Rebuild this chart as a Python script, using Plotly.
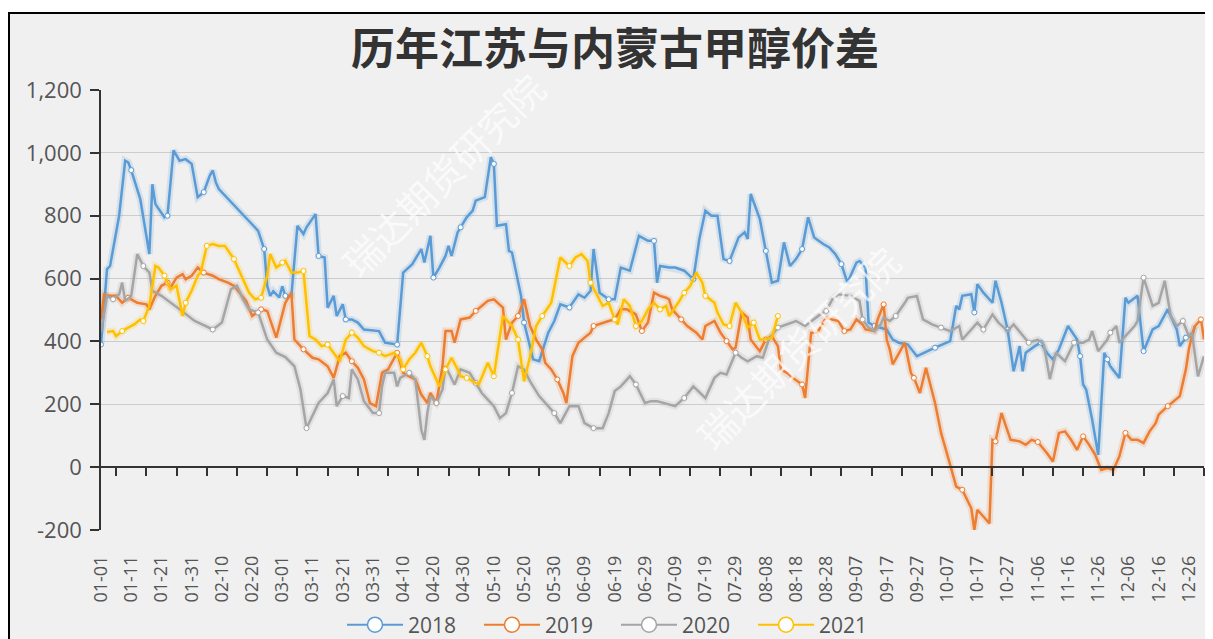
import pandas as pd
import plotly.graph_objects as go

# category axis: every calendar day (leap-year calendar, labels MM-DD)
cats = list(pd.date_range("2020-01-01", "2020-12-31", freq="D").strftime("%m-%d"))
label_days = cats[0::10]
tick_days = cats[5::10]

title_text = "历年江苏与内蒙古甲醇价差"
series_names = ["2018", "2019", "2020", "2021"]
y_ticks = [-200, 0, 200, 400, 600, 800, 1000, 1200]
y_ticktext = ["-200", "0", "200", "400", "600", "800", "1,000", "1,200"]
watermark = "瑞达期货研究院"

# (day of year index, 0 = 01-01 ; value)
s2018 = [(0,390),(2,630),(3,640),(6,800),(8,975),(9,970),(10,945),(13,853),(16,678),(17,900),(18,837),(21,795),(22,800),(24,1008),(26,975),(28,980),(30,965),(32,859),(34,875),(36,928),(37,944),(38,906),(39,885),(52,752),(54,694),(55,577),(56,545),(57,560),(59,540),(60,575),(61,545),(63,545),(65,768),(67,742),(68,763),(71,805),(72,672),(74,667),(75,507),(77,545),(78,481),(80,518),(81,470),(83,470),(85,460),(87,438),(92,433),(94,396),(98,390),(100,619),(103,646),(106,694),(107,651),(109,736),(110,603),(112,635),(114,672),(115,704),(116,672),(118,747),(119,763),(121,795),(123,816),(124,848),(127,859),(129,986),(130,965),(131,768),(134,773),(135,688),(136,683),(139,545),(140,460),(143,343),(145,337),(148,428),(150,465),(152,518),(155,508),(158,550),(160,539),(162,561),(163,694),(165,555),(168,534),(170,534),(172,635),(175,625),(178,736),(181,720),(183,720),(184,587),(185,640),(188,635),(190,635),(193,625),(196,598),(198,726),(200,816),(202,800),(204,800),(206,662),(208,656),(211,731),(213,747),(214,726),(215,869),(218,790),(220,688),(222,587),(224,593),(226,715),(228,640),(230,662),(232,694),(234,795),(236,731),(239,710),(241,699),(243,678),(245,646),(247,587),(250,651),(251,656),(253,635),(254,460),(256,449),(260,438),(262,406),(264,396),(267,390),(270,353),(276,380),(281,401),(283,513),(284,502),(285,545),(288,550),(289,492),(290,582),(292,555),(295,523),(296,593),(298,523),(300,438),(302,305),(304,385),(305,305),(306,364),(309,385),(311,396),(313,364),(315,343),(317,375),(320,449),(323,406),(324,353),(325,263),(326,247),(328,151),(330,39),(332,364),(333,343),(334,321),(337,284),(339,539),(340,523),(343,545),(345,369),(348,438),(350,449),(353,502),(356,438),(357,385),(359,412),(361,417),(362,449)]

s2019 = [(0,470),(1,550),(3,545),(5,545),(7,523),(9,539),(10,534),(12,523),(15,518),(16,502),(18,545),(20,577),(22,587),(23,571),(25,603),(27,614),(28,598),(30,609),(32,635),(34,619),(37,609),(39,598),(42,587),(44,577),(48,529),(50,481),(53,502),(55,497),(58,412),(60,481),(61,523),(63,555),(64,406),(67,375),(70,348),(72,343),(75,321),(77,284),(79,353),(81,364),(83,337),(85,316),(87,279),(89,204),(91,194),(93,300),(95,311),(98,364),(100,300),(102,289),(104,279),(106,231),(108,204),(109,236),(111,204),(113,321),(114,433),(116,433),(117,396),(119,470),(122,476),(124,497),(126,513),(128,529),(130,534),(133,508),(134,406),(136,460),(138,481),(140,534),(142,449),(144,406),(146,375),(147,332),(149,311),(151,279),(153,236),(154,204),(156,353),(158,396),(160,412),(162,428),(163,449),(166,460),(168,465),(170,470),(172,502),(174,502),(177,486),(179,433),(181,460),(183,555),(185,545),(187,539),(188,534),(189,502),(192,470),(194,449),(197,428),(199,406),(200,449),(203,465),(205,428),(207,401),(209,375),(210,380),(212,492),(214,476),(215,406),(218,369),(220,406),(222,417),(224,385),(225,311),(227,300),(229,284),(231,268),(232,263),(233,220),(235,428),(237,428),(240,476),(242,470),(244,465),(246,433),(248,438),(250,470),(252,454),(253,438),(256,433),(257,470),(259,518),(260,406),(261,375),(262,327),(264,364),(266,396),(268,300),(269,284),(271,236),(273,316),(276,204),(278,109),(281,7),(283,-62),(285,-72),(288,-131),(289,-200),(290,-136),(292,-157),(294,-179),(295,87),(296,82),(298,172),(300,119),(301,87),(304,82),(306,71),(308,87),(310,80),(313,45),(315,18),(317,109),(319,114),(321,87),(323,55),(325,98),(327,71),(329,39),(331,-9),(333,-3),(335,-9),(337,34),(339,109),(341,87),(343,87),(345,77),(347,114),(349,140),(350,167),(353,194),(355,210),(357,226),(359,311),(360,375),(361,417),(362,449),(364,470),(365,406)]

s2020 = [(0,430),(2,545),(4,534),(6,550),(7,587),(8,529),(10,545),(12,678),(14,640),(16,619),(17,561),(20,545),(26,502),(31,465),(37,438),(40,460),(43,566),(45,577),(47,534),(49,502),(52,492),(55,406),(58,364),(61,350),(64,321),(66,247),(68,124),(70,162),(72,204),(75,236),(77,279),(78,194),(80,226),(82,220),(83,311),(85,279),(87,210),(90,172),(92,172),(93,257),(94,300),(97,300),(98,257),(99,284),(102,300),(104,279),(106,119),(107,87),(108,172),(109,226),(111,204),(113,247),(114,321),(117,263),(119,311),(122,300),(124,268),(126,236),(128,215),(130,194),(132,156),(134,172),(136,236),(138,321),(140,311),(142,273),(145,226),(147,204),(150,172),(152,140),(155,194),(157,194),(158,194),(160,140),(163,124),(166,124),(168,172),(170,242),(172,257),(175,289),(177,263),(180,204),(182,210),(184,210),(188,199),(190,194),(193,220),(196,257),(200,220),(203,284),(205,300),(207,295),(210,364),(212,348),(214,337),(217,353),(219,348),(221,406),(224,444),(227,454),(230,465),(233,449),(236,470),(238,486),(240,497),(242,534),(244,550),(247,545),(248,545),(251,529),(252,470),(254,444),(256,433),(258,454),(259,476),(261,465),(263,481),(266,523),(267,539),(270,545),(272,470),(275,454),(278,444),(281,433),(284,449),(285,406),(288,438),(290,460),(292,438),(295,486),(297,460),(300,433),(302,454),(305,417),(307,396),(310,406),(312,390),(314,280),(316,364),(319,337),(322,396),(325,396),(327,406),(328,433),(330,369),(333,406),(334,428),(336,449),(337,396),(339,417),(342,449),(343,465),(345,603),(348,513),(350,523),(352,593),(354,481),(356,449),(358,465),(360,417),(361,428),(363,289),(365,353)]

s2021 = [(2,430),(4,433),(5,417),(7,433),(9,444),(11,454),(13,470),(14,465),(16,513),(18,640),(19,635),(21,609),(23,566),(25,577),(27,481),(28,523),(30,561),(32,609),(33,619),(35,704),(37,710),(39,704),(41,704),(44,662),(47,598),(49,555),(51,534),(53,539),(55,609),(56,678),(58,635),(60,651),(61,656),(63,619),(65,619),(67,624),(69,417),(71,406),(73,385),(75,390),(77,364),(79,337),(81,406),(83,428),(85,412),(87,385),(90,369),(92,364),(94,353),(97,364),(99,343),(100,311),(102,343),(104,364),(106,396),(108,353),(109,321),(110,300),(112,257),(114,311),(116,348),(118,311),(119,289),(121,284),(123,273),(125,263),(128,332),(130,289),(133,481),(134,470),(136,449),(138,406),(140,273),(142,353),(144,449),(146,481),(149,523),(151,619),(152,667),(155,640),(157,667),(159,678),(161,656),(162,587),(164,550),(166,513),(168,523),(170,470),(171,454),(173,534),(175,513),(177,449),(179,465),(181,502),(183,523),(185,502),(187,513),(188,481),(191,523),(193,555),(195,577),(197,619),(199,587),(200,545),(203,523),(204,492),(206,454),(208,449),(210,523),(212,492),(214,444),(216,460),(218,406),(220,406),(222,412),(224,481)]

series = [s2018, s2019, s2020, s2021]
colors = ["#5b9bd5", "#ed7d31", "#a5a5a5", "#ffc000"]
halos = ["rgba(91,155,213,0.18)", "rgba(237,125,49,0.18)", "rgba(165,165,165,0.18)", "rgba(255,192,0,0.18)"]

fig = go.Figure()

# soft glow under the lines
for s, h in zip(series, halos):
    fig.add_trace(go.Scatter(
        x=[cats[d] for d, _ in s], y=[v for _, v in s], mode="lines",
        line=dict(color=h, width=7), hoverinfo="skip", showlegend=False))

for name, s, c in zip(series_names, series, colors):
    fig.add_trace(go.Scatter(
        x=[cats[d] for d, _ in s], y=[v for _, v in s], name=name,
        mode="lines+markers", line=dict(color=c, width=2.5),
        marker=dict(symbol="circle", size=5, color="white",
                    line=dict(color=c, width=1), maxdisplayed=30),
        showlegend=False, legendgroup=name))

# legend entries (bigger hollow circles as in the original)
for name, c in zip(series_names, colors):
    fig.add_trace(go.Scatter(
        x=[None], y=[None], name=name, mode="lines+markers",
        line=dict(color=c, width=2),
        marker=dict(symbol="circle", size=15, color="white", line=dict(color=c, width=1.5)),
        legendgroup=name, showlegend=True))

# helper trace for the zero-line axis with ticks
fig.add_trace(go.Scatter(x=[cats[0]], y=[None], xaxis="x2", mode="lines",
                         hoverinfo="skip", showlegend=False))

# page layout (the page body adds an 8 px offset)
OFF = 8
PAGE_W, PAGE_H = 1213, 639
W, H = PAGE_W - OFF, PAGE_H - OFF
plot_left, plot_right, plot_top, plot_bottom = 101, 1204, 90, 530  # page pixels
m_l = plot_left - OFF
m_t = plot_top - OFF
m_r = PAGE_W - plot_right
m_b = PAGE_H - plot_bottom
pw = plot_right - plot_left
ph = plot_bottom - plot_top

def paper_x(px):
    return (px - plot_left) / pw

def paper_y(py):
    return (plot_bottom - py) / ph

fig.update_layout(
    width=W, height=H,
    margin=dict(l=m_l, r=m_r, t=m_t, b=m_b, autoexpand=False),
    paper_bgcolor="white",
    plot_bgcolor="rgba(0,0,0,0)",
    font=dict(family="Open Sans, Noto Sans CJK SC", color="#555"),
    title=dict(text="<b>" + title_text + "</b>", x=(615 - OFF) / W, xref="container",
               y=1 - (50 - OFF) / H, yref="container", xanchor="center", yanchor="middle",
               font=dict(family="Noto Sans CJK SC", size=44, color="#333")),
    xaxis=dict(type="category", categoryorder="array", categoryarray=cats,
               range=[0, len(cats) - 1], tickmode="array", tickvals=label_days,
               ticktext=label_days, tickangle=-90, ticks="", showgrid=False,
               showline=False, zeroline=False, ticklabelstandoff=21, automargin=False,
               tickfont=dict(size=18, color="#555")),
    xaxis2=dict(type="category", categoryorder="array", categoryarray=cats,
                range=[0, len(cats) - 1], overlaying="x", anchor="free",
                position=(0 - (-200)) / 1400, side="bottom", showline=True,
                linecolor="#333", linewidth=1.5, ticks="outside", ticklen=8,
                tickwidth=1.5, tickcolor="#333", tickmode="array",
                tickvals=tick_days, showticklabels=False, showgrid=False,
                zeroline=False),
    yaxis=dict(range=[-200, 1200], tickmode="array", tickvals=y_ticks,
               ticktext=y_ticktext, showgrid=True, gridcolor="#cccccc", gridwidth=1,
               zeroline=False, showline=True, linecolor="#333", linewidth=1.5,
               ticks="outside", ticklen=9, tickwidth=1.5, tickcolor="#333",
               ticklabelstandoff=4, automargin=False,
               tickfont=dict(size=22, color="#555")),
    legend=dict(orientation="h", x=paper_x(616), y=paper_y(625),
                xanchor="center", yanchor="middle", entrywidth=66,
                entrywidthmode="pixels", itemwidth=56,
                font=dict(size=21, color="#555"), bgcolor="rgba(0,0,0,0)"),
    shapes=[dict(type="rect", xref="paper", yref="paper",
                 x0=paper_x(9), x1=paper_x(PAGE_W + 20), y0=paper_y(PAGE_H + 20), y1=paper_y(13),
                 fillcolor="#f0f0f0", line=dict(color="black", width=2), layer="below")],
    annotations=[
        dict(text=watermark, xref="paper", yref="paper", x=paper_x(442), y=paper_y(174),
             showarrow=False, textangle=-45, xanchor="center", yanchor="middle",
             font=dict(family="Noto Sans CJK SC", size=38, color="rgba(255,255,255,0.7)")),
        dict(text=watermark, xref="paper", yref="paper", x=paper_x(797), y=paper_y(347),
             showarrow=False, textangle=-45, xanchor="center", yanchor="middle",
             font=dict(family="Noto Sans CJK SC", size=38, color="rgba(255,255,255,0.7)")),
    ],
)

fig.write_html("out.html")
